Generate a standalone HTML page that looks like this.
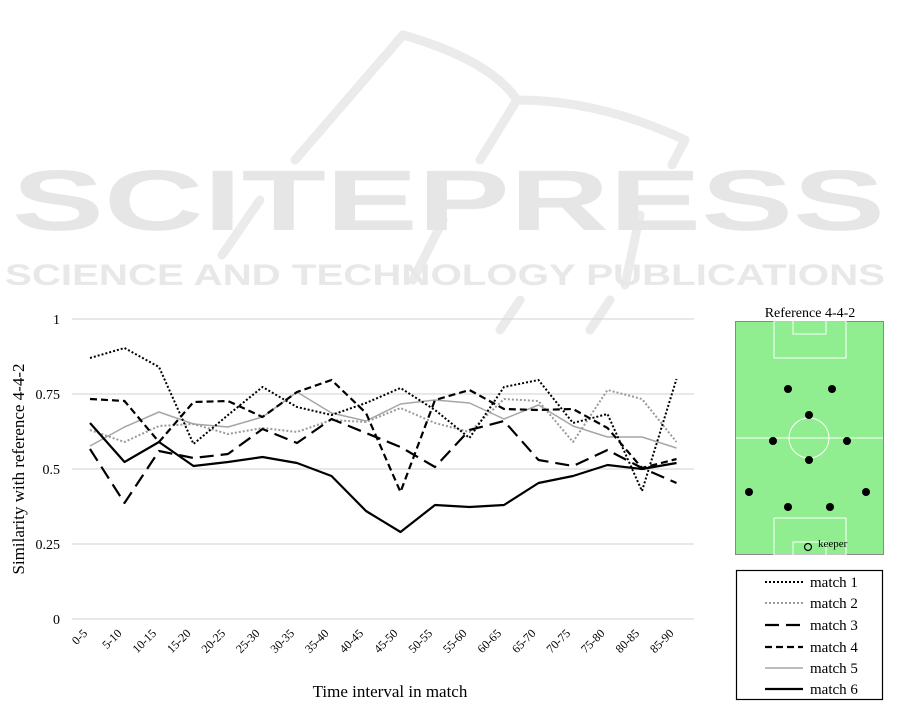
<!DOCTYPE html>
<html><head><meta charset="utf-8"><style>html,body{margin:0;padding:0;background:#fff;width:901px;height:707px;overflow:hidden}</style></head>
<body>
<svg width="901" height="707" viewBox="0 0 901 707" xmlns="http://www.w3.org/2000/svg" font-family="'Liberation Serif', serif">
<!-- watermark -->
<g fill="none" stroke="#ebebeb" stroke-width="9" stroke-linecap="round">
<path d="M403 35 L295 160"/>
<path d="M403 35 Q490 60 517 100 Q600 100 685 140"/>
<path d="M517 100 L480 160"/>
<path d="M685 140 L672 165"/>
<path d="M260 200 L222 255"/>
<path d="M443 220 L413 280"/>
<path d="M640 215 L625 285"/>
<path d="M520 300 L500 330"/>
<path d="M610 300 L590 330"/>
</g>
<text x="12" y="230" textLength="873" lengthAdjust="spacingAndGlyphs" font-family="'Liberation Sans',sans-serif" font-weight="bold" font-size="86" fill="#e6e6e6">SCITEPRESS</text>
<text x="5" y="285" textLength="880" lengthAdjust="spacingAndGlyphs" font-family="'Liberation Sans',sans-serif" font-weight="bold" font-size="30" fill="#e8e8e8">SCIENCE AND TECHNOLOGY PUBLICATIONS</text>
<!-- grid -->
<g stroke="#d9d9d9" stroke-width="1.2">
<line x1="72" y1="319" x2="694" y2="319"/><line x1="72" y1="394" x2="694" y2="394"/>
<line x1="72" y1="469" x2="694" y2="469"/><line x1="72" y1="544" x2="694" y2="544"/>
<line x1="72" y1="619" x2="694" y2="619"/>
</g>
<g font-size="14" text-anchor="end" fill="#000">
<text x="60" y="324">1</text><text x="60" y="399">0.75</text><text x="60" y="474">0.5</text><text x="60" y="549">0.25</text><text x="60" y="624">0</text>
</g>
<text transform="translate(24,469) rotate(-90)" text-anchor="middle" font-size="17">Similarity with reference 4-4-2</text>
<text x="390" y="697" text-anchor="middle" font-size="17">Time interval in match</text>
<g font-size="12" text-anchor="end">
<text transform="translate(88,634) rotate(-45)">0-5</text>
<text transform="translate(122.5,634) rotate(-45)">5-10</text>
<text transform="translate(157,634) rotate(-45)">10-15</text>
<text transform="translate(191.5,634) rotate(-45)">15-20</text>
<text transform="translate(226,634) rotate(-45)">20-25</text>
<text transform="translate(260.5,634) rotate(-45)">25-30</text>
<text transform="translate(295,634) rotate(-45)">30-35</text>
<text transform="translate(329.5,634) rotate(-45)">35-40</text>
<text transform="translate(364,634) rotate(-45)">40-45</text>
<text transform="translate(398.5,634) rotate(-45)">45-50</text>
<text transform="translate(433,634) rotate(-45)">50-55</text>
<text transform="translate(467.5,634) rotate(-45)">55-60</text>
<text transform="translate(502,634) rotate(-45)">60-65</text>
<text transform="translate(536.5,634) rotate(-45)">65-70</text>
<text transform="translate(571,634) rotate(-45)">70-75</text>
<text transform="translate(605.5,634) rotate(-45)">75-80</text>
<text transform="translate(640,634) rotate(-45)">80-85</text>
<text transform="translate(674.5,634) rotate(-45)">85-90</text>
</g>
<g fill="none" stroke-linejoin="round">
<polyline stroke="#a6a6a6" stroke-width="1.5" points="90,446 124.5,427 159,412 193.5,424 228,427 262.5,417 297,392 331.5,413 366,421 400.5,404 435,400 469.5,403 504,419 538.5,405 573,426 607.5,437 642,437 676.5,448"/>
<polyline stroke="#9a9a9a" stroke-width="2" stroke-dasharray="2,2" points="90,430 124.5,442 159,426 193.5,424 228,434 262.5,428 297,432 331.5,420 366,422 400.5,408 435,423 469.5,432 504,399 538.5,401 573,442 607.5,390 642,399 676.5,442"/>
<polyline stroke="#000" stroke-width="2" stroke-dasharray="2,2" points="90,358 124.5,348 159,367 193.5,444 228,415 262.5,387 297,407 331.5,415 366,403 400.5,388 435,410 469.5,438 504,387 538.5,380 573,423 607.5,414 642,491 676.5,379"/>
<polyline stroke="#000" stroke-width="2.2" stroke-dasharray="14,7" points="90,449 124.5,503 159,451 193.5,458 228,454 262.5,429 297,443 331.5,419 366,433 400.5,447 435,467 469.5,430 504,421 538.5,460 573,466 607.5,450 642,468 676.5,483"/>
<polyline stroke="#000" stroke-width="2.2" stroke-dasharray="7,4" points="90,399 124.5,401 159,442 193.5,402 228,401 262.5,417 297,392 331.5,380 366,413 400.5,492 435,400 469.5,390 504,409 538.5,410 573,409 607.5,428 642,468 676.5,459"/>
<polyline stroke="#000" stroke-width="2.2" points="90,423 124.5,462 159,442 193.5,466 228,462 262.5,457 297,463 331.5,476 366,511 400.5,532 435,505 469.5,507 504,505 538.5,483 573,476 607.5,465 642,469 676.5,463"/>
</g>
<!-- field -->
<text x="810" y="317" text-anchor="middle" font-size="14">Reference 4-4-2</text>
<rect x="735.5" y="321.5" width="148" height="233" fill="#90ee90" stroke="#888" stroke-width="1"/>
<g fill="none" stroke="#fff" stroke-width="1">
<line x1="736" y1="438" x2="883" y2="438"/>
<circle cx="809" cy="438" r="20"/>
<rect x="774" y="321" width="72" height="37"/>
<rect x="793" y="321" width="33" height="13"/>
<rect x="774" y="518" width="72" height="37"/>
<rect x="793" y="542" width="33" height="13"/>
</g>
<g fill="#000">
<circle cx="788" cy="389" r="4"/><circle cx="832" cy="389" r="4"/><circle cx="809" cy="415" r="4"/>
<circle cx="773" cy="441" r="4"/><circle cx="847" cy="441" r="4"/><circle cx="809" cy="460" r="4"/>
<circle cx="749" cy="492" r="4"/><circle cx="866" cy="492" r="4"/><circle cx="788" cy="507" r="4"/><circle cx="830" cy="507" r="4"/>
</g>
<circle cx="808" cy="547" r="3.5" fill="none" stroke="#000" stroke-width="1.2"/>
<text x="818" y="547" font-size="11">keeper</text>
<!-- legend -->
<rect x="736.5" y="570.5" width="146" height="129" fill="#fff" stroke="#000" stroke-width="1.2"/>
<g stroke-width="2" fill="none">
<line x1="765" y1="582" x2="803" y2="582" stroke="#000" stroke-dasharray="2,2"/>
<line x1="765" y1="603" x2="803" y2="603" stroke="#9a9a9a" stroke-dasharray="2,2"/>
<line x1="765" y1="625" x2="803" y2="625" stroke="#000" stroke-width="2.2" stroke-dasharray="14,7"/>
<line x1="765" y1="647" x2="803" y2="647" stroke="#000" stroke-width="2.2" stroke-dasharray="7,4"/>
<line x1="765" y1="668" x2="803" y2="668" stroke="#a6a6a6" stroke-width="1.5"/>
<line x1="765" y1="689" x2="803" y2="689" stroke="#000" stroke-width="2.2"/>
</g>
<g font-size="15">
<text x="810" y="587">match 1</text><text x="810" y="608">match 2</text><text x="810" y="630">match 3</text>
<text x="810" y="652">match 4</text><text x="810" y="673">match 5</text><text x="810" y="694">match 6</text>
</g>
</svg>
</body></html>
